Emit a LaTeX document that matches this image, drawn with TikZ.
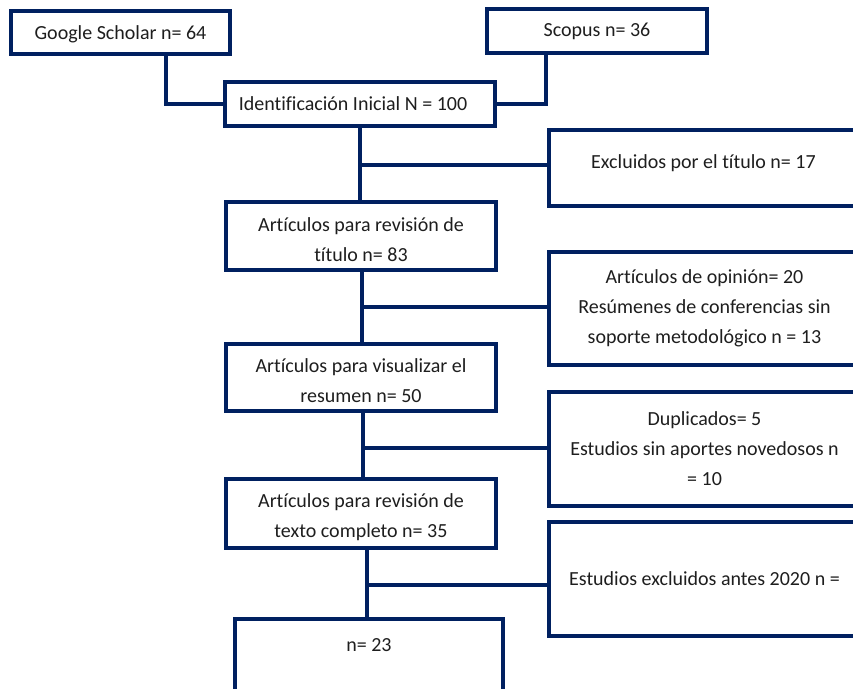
\documentclass[tikz,border=0pt]{standalone}
\usepackage{fontspec}
\setmainfont{Carlito}[Ligatures=CommonOff]
\definecolor{navy}{RGB}{0,32,96}
\definecolor{txt}{RGB}{30,30,30}
\newcommand\shiftv[2]{\raisebox{#1}[\height][\depth]{#2}}
\begin{document}
\begin{tikzpicture}[x=1pt,y=-1pt,
  box/.style={draw=navy, line width=4.5pt, rectangle, inner sep=0pt, align=center,
    text=txt, font=\fontsize{20}{30}\selectfont},
  link/.style={draw=navy, line width=4.5pt}]
\useasboundingbox (0,0) rectangle (853,688);
\fill[white] (0,0) rectangle (853,688);

% nodes
\node[box, minimum width=219pt, minimum height=43pt] (G) at (120.5,32.5) {\shiftv{-1.5pt}{Google Scholar n= 64}};
\node[box, minimum width=220pt, minimum height=44pt] (S) at (597,31) {Scopus n= 36};
\node[box, minimum width=270pt, minimum height=44pt] (I) at (360,104) {Identificación Inicial N = 100\hspace*{14pt}};
\node[box, minimum width=309pt, minimum height=76pt] (E1) at (703.5,168) {\shiftv{5pt}{Excluidos por el título n= 17}};
\node[box, minimum width=270pt, minimum height=68pt] (B2) at (361,236) {\shiftv{-4pt}{Artículos para revisión de}\\\shiftv{-4pt}{título n= 83}};
\node[box, minimum width=311pt, minimum height=113pt] (E2) at (704.5,308.5) {Artículos de opinión= 20\\Resúmenes de conferencias sin\\soporte metodológico n = 13};
\node[box, minimum width=270pt, minimum height=67pt] (B3) at (361,377.5) {\shiftv{-3pt}{Artículos para visualizar el}\\\shiftv{-3pt}{resumen n= 50}};
\node[box, minimum width=311pt, minimum height=114pt] (E3) at (704.5,449) {Duplicados= 5\\Estudios sin aportes novedosos n\\= 10};
\node[box, minimum width=270pt, minimum height=69pt] (B4) at (361,513.5) {\shiftv{-4pt}{Artículos para revisión de}\\\shiftv{-4pt}{texto completo n= 35}};
\node[box, minimum width=311pt, minimum height=114pt] (E4) at (704.5,579) {Estudios excluidos antes 2020 n =};
\node[box, minimum width=268pt, minimum height=82pt] (B5) at (369,660) {n= 23\\\mbox{}};

% junction coordinates
\coordinate (gx) at (166,0);
\coordinate (sx) at (546,0);
\coordinate (j1) at (360,165);
\coordinate (j2) at (362,307);
\coordinate (j3) at (363,448);
\coordinate (j4) at (367,585);

% connectors
\draw[link] (G.south -| gx) |- (I.west);
\draw[link] (S.south -| sx) |- (I.east);
\draw[link] (I.south -| j1) -- (B2.north -| j1);
\draw[link] (j1) -- (j1 -| E1.west);
\draw[link] (B2.south -| j2) -- (B3.north -| j2);
\draw[link] (j2) -- (j2 -| E2.west);
\draw[link] (B3.south -| j3) -- (B4.north -| j3);
\draw[link] (j3) -- (j3 -| E3.west);
\draw[link] (B4.south -| j4) -- (B5.north -| j4);
\draw[link] (j4) -- (j4 -| E4.west);
\end{tikzpicture}
\end{document}
